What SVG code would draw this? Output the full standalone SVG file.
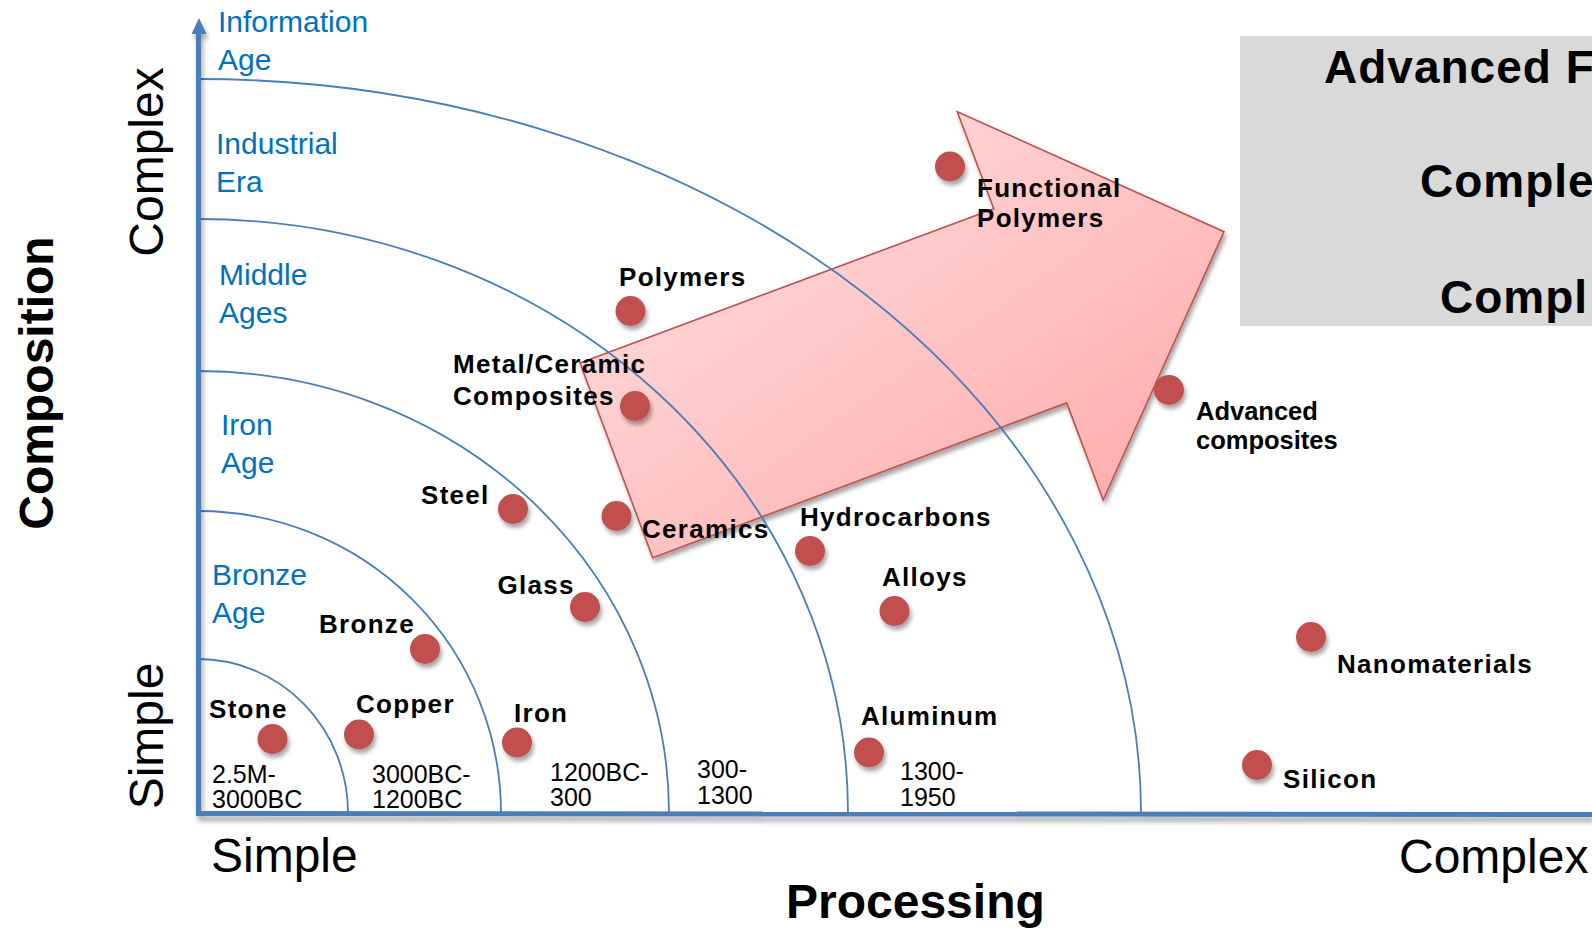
<svg xmlns="http://www.w3.org/2000/svg" width="1592" height="930" viewBox="0 0 1592 930">
<defs>
<linearGradient id="arrowGrad" x1="0" y1="0" x2="1" y2="1">
<stop offset="0" stop-color="#FFE4E4"/>
<stop offset="1" stop-color="#FFA6A6"/>
</linearGradient>
<filter id="shadow" x="-30%" y="-30%" width="160%" height="160%">
<feDropShadow dx="2" dy="4" stdDeviation="2.2" flood-color="#000" flood-opacity="0.35"/>
</filter>
<filter id="axShadow" x="-5%" y="-5%" width="110%" height="110%">
<feDropShadow dx="2" dy="5" stdDeviation="2.5" flood-color="#000" flood-opacity="0.35"/>
</filter>
<style>
.era{font-family:"Liberation Sans",Arial,sans-serif;font-size:30px;fill:#0070C0}
.lbl{font-family:"Liberation Sans",Arial,sans-serif;font-size:26px;font-weight:bold;fill:#000;letter-spacing:1.3px}
.date{font-family:"Liberation Sans",Arial,sans-serif;font-size:25px;fill:#000}
.axt{font-family:"Liberation Sans",Arial,sans-serif;font-size:48px;fill:#000}
.axb{font-family:"Liberation Sans",Arial,sans-serif;font-size:48px;font-weight:bold;fill:#000}
.box{font-family:"Liberation Sans",Arial,sans-serif;font-size:46px;font-weight:bold;fill:#000;letter-spacing:1px}
.arc{fill:none;stroke:#4A7EBB;stroke-width:1.8}
.dot{fill:#C0504D;filter:url(#shadow)}
</style>
</defs>
<rect width="1592" height="930" fill="#fff"/>

<g id="summary-box">
<rect x="1240" y="36" width="352" height="290" fill="#D9D9D9"/>
<text class="box" x="1324" y="83">Advanced F</text>
<text class="box" x="1420" y="197">Comple</text>
<text class="box" x="1440" y="313">Compl</text>
</g>

<g id="trend-arrow">
<polygon points="580,363 993.8,208.7 957.3,111.7 1224,231.7 1103.2,500 1066.7,402.9 652.7,557.7" fill="url(#arrowGrad)" stroke="#C0504D" stroke-width="1.6" filter="url(#shadow)"/>
</g>

<g id="connectors">
<path class="arc" d="M198,659 A150,154 0 0 1 348,813"/>
<path class="arc" d="M198,511 A303,302 0 0 1 501,813"/>
<path class="arc" d="M198,371 A471,442 0 0 1 669,813"/>
<path class="arc" d="M198,219 A650,594 0 0 1 848,813"/>
<path class="arc" d="M198,79 A943,734 0 0 1 1141,813"/>
<g filter="url(#axShadow)">
<line x1="198.5" y1="32" x2="198.5" y2="815.5" stroke="#4A7EBB" stroke-width="5"/>
<polygon points="199,18 191.5,34 206.5,34" fill="#4A7EBB"/>
<line x1="196" y1="813.5" x2="1592" y2="814.5" stroke="#4A7EBB" stroke-width="5"/>
</g>
</g>

<g id="axis-labels">
<text class="axt" transform="translate(163,162) rotate(-90)" text-anchor="middle">Complex</text>
<text class="axt" transform="translate(163,736) rotate(-90)" text-anchor="middle">Simple</text>
<text class="axb" transform="translate(53,383) rotate(-90)" text-anchor="middle">Composition</text>
<text class="axt" x="211" y="872">Simple</text>
<text class="axt" x="1399" y="873">Complex</text>
<text class="axb" x="786" y="918">Processing</text>
</g>

<g id="eras">
<text class="era" x="218" y="32">Information</text>
<text class="era" x="218" y="70">Age</text>
<text class="era" x="216" y="154">Industrial</text>
<text class="era" x="216" y="192">Era</text>
<text class="era" x="219" y="285">Middle</text>
<text class="era" x="219" y="323">Ages</text>
<text class="era" x="221" y="435">Iron</text>
<text class="era" x="221" y="473">Age</text>
<text class="era" x="212" y="585">Bronze</text>
<text class="era" x="212" y="623">Age</text>
</g>

<g id="dates">
<text class="date" x="212" y="783">2.5M-</text>
<text class="date" x="212" y="808">3000BC</text>
<text class="date" x="372" y="783">3000BC-</text>
<text class="date" x="372" y="808">1200BC</text>
<text class="date" x="550" y="781">1200BC-</text>
<text class="date" x="550" y="806">300</text>
<text class="date" x="697" y="778">300-</text>
<text class="date" x="697" y="804">1300</text>
<text class="date" x="900" y="780">1300-</text>
<text class="date" x="900" y="806">1950</text>
</g>

<g id="node-stone"><circle class="dot" cx="272.5" cy="739" r="15"/><text class="lbl" x="209" y="718">Stone</text></g>
<g id="node-copper"><circle class="dot" cx="359" cy="734.5" r="15"/><text class="lbl" x="356" y="712.5">Copper</text></g>
<g id="node-bronze"><circle class="dot" cx="425" cy="649" r="15"/><text class="lbl" x="319" y="632.5">Bronze</text></g>
<g id="node-iron"><circle class="dot" cx="517" cy="742.5" r="15"/><text class="lbl" x="514" y="721.5">Iron</text></g>
<g id="node-glass"><circle class="dot" cx="585" cy="607" r="15"/><text class="lbl" x="497.5" y="594">Glass</text></g>
<g id="node-steel"><circle class="dot" cx="513" cy="509" r="15"/><text class="lbl" x="421" y="503.5">Steel</text></g>
<g id="node-ceramics"><circle class="dot" cx="616.5" cy="516" r="15"/><text class="lbl" x="642" y="538">Ceramics</text></g>
<g id="node-metal-ceramic"><circle class="dot" cx="635" cy="406" r="15"/><text class="lbl" x="453" y="373">Metal/Ceramic</text><text class="lbl" x="453" y="405">Composites</text></g>
<g id="node-polymers"><circle class="dot" cx="630.5" cy="311" r="15"/><text class="lbl" x="619" y="286">Polymers</text></g>
<g id="node-functional-polymers"><circle class="dot" cx="950" cy="166.5" r="15"/><text class="lbl" x="977" y="197">Functional</text><text class="lbl" x="977" y="227">Polymers</text></g>
<g id="node-hydrocarbons"><circle class="dot" cx="810" cy="551" r="15"/><text class="lbl" x="800" y="526">Hydrocarbons</text></g>
<g id="node-alloys"><circle class="dot" cx="894.5" cy="611" r="15"/><text class="lbl" x="882" y="586">Alloys</text></g>
<g id="node-aluminum"><circle class="dot" cx="869" cy="752.5" r="15"/><text class="lbl" x="861" y="725">Aluminum</text></g>
<g id="node-advanced-composites"><circle class="dot" cx="1169" cy="390" r="15"/><text class="lbl" style="letter-spacing:0;font-size:25.5px" x="1196" y="420">Advanced</text><text class="lbl" style="letter-spacing:0;font-size:25.5px" x="1196" y="449">composites</text></g>
<g id="node-nanomaterials"><circle class="dot" cx="1311" cy="637" r="15"/><text class="lbl" x="1337" y="673">Nanomaterials</text></g>
<g id="node-silicon"><circle class="dot" cx="1257" cy="765" r="15"/><text class="lbl" x="1283" y="788">Silicon</text></g>
</svg>
